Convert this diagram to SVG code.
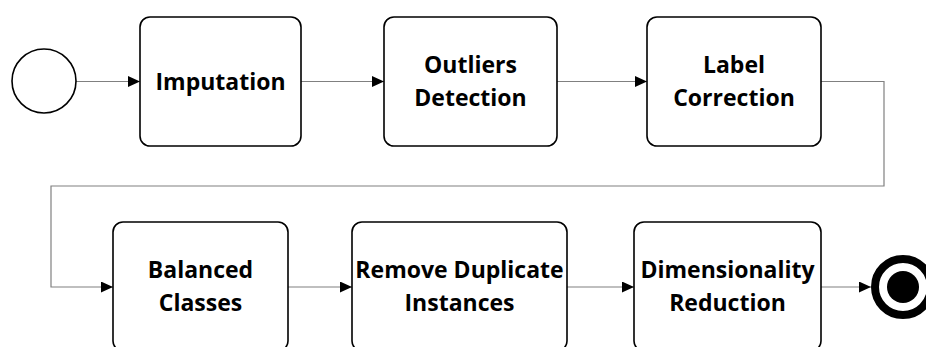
<svg xmlns="http://www.w3.org/2000/svg" width="926" height="347" viewBox="0 0 926 347">
  <defs>
    <marker id="arrow" markerUnits="userSpaceOnUse" markerWidth="12" markerHeight="11" refX="12" refY="5.5" orient="auto">
      <path d="M0,0 L12,5.5 L0,11 Z" fill="#000"/>
    </marker>
    <style>
      .box { fill: #fff; stroke: #000; stroke-width: 1.6; }
      .conn { fill: none; stroke: #808080; stroke-width: 1.2; marker-end: url(#arrow); }
      .lbl { font-family: "Open Sans", "Liberation Sans", sans-serif; font-weight: bold; font-size: 23px; fill: #000; text-anchor: middle; }
    </style>
  </defs>
  <rect width="926" height="347" fill="#fff"/>

  <g id="connectors">
    <path class="conn" d="M76,81.5 H140"/>
    <path class="conn" d="M301,81.5 H384"/>
    <path class="conn" d="M557,81.5 H647"/>
    <path class="conn" d="M821,81.5 H884 V186 H51 V287 H113"/>
    <path class="conn" d="M288,287 H352"/>
    <path class="conn" d="M567,287 H634"/>
    <path class="conn" d="M821,287 H871"/>
  </g>

  <g id="start">
    <circle cx="44" cy="81" r="32" fill="#fff" stroke="#000" stroke-width="1.6"/>
  </g>

  <g id="imputation">
    <rect class="box" x="140" y="17" width="161" height="129" rx="10"/>
    <text class="lbl" x="220.5" y="89.5">Imputation</text>
  </g>

  <g id="outliers">
    <rect class="box" x="384" y="17" width="173" height="129" rx="10"/>
    <text class="lbl" x="470.5" y="73">Outliers</text>
    <text class="lbl" x="470.5" y="106">Detection</text>
  </g>

  <g id="label-correction">
    <rect class="box" x="647" y="17" width="174" height="129" rx="10"/>
    <text class="lbl" x="734" y="73">Label</text>
    <text class="lbl" x="734" y="106">Correction</text>
  </g>

  <g id="balanced">
    <rect class="box" x="113" y="222" width="175" height="129" rx="10"/>
    <text class="lbl" x="200.5" y="278">Balanced</text>
    <text class="lbl" x="200.5" y="311">Classes</text>
  </g>

  <g id="remove-duplicates">
    <rect class="box" x="352" y="222" width="215" height="129" rx="10"/>
    <text class="lbl" x="459.5" y="278">Remove Duplicate</text>
    <text class="lbl" x="459.5" y="311">Instances</text>
  </g>

  <g id="dimensionality">
    <rect class="box" x="634" y="222" width="187" height="129" rx="10"/>
    <text class="lbl" x="727.5" y="278">Dimensionality</text>
    <text class="lbl" x="727.5" y="311">Reduction</text>
  </g>

  <g id="end">
    <circle cx="903" cy="287" r="28" fill="#fff" stroke="#000" stroke-width="8"/>
    <circle cx="903" cy="287" r="16" fill="#000"/>
  </g>
</svg>
